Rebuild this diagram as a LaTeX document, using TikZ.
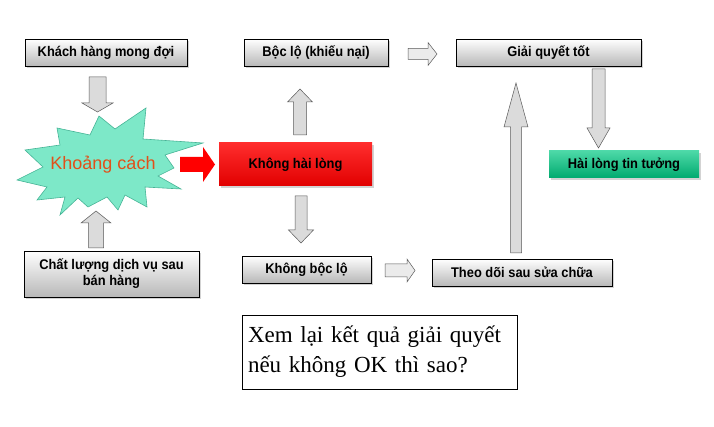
\documentclass[tikz,border=0pt]{standalone}
\usepackage{fontspec}
\setmainfont{Liberation Sans}
\newfontfamily\boxfont{Liberation Sans}[FakeStretch=0.92]
\newfontfamily\notefont{Liberation Serif}
\usetikzlibrary{positioning,calc,shadows}

\definecolor{starfill}{RGB}{125,232,200}
\definecolor{starline}{RGB}{70,180,150}
\definecolor{gaptext}{RGB}{225,80,25}
\definecolor{okgreen}{RGB}{0,200,130}

% block arrow between two named coordinates:
% #2 start, #3 end, #4 half shaft, #5 half head, #6 head length
\newcommand{\fatarrow}[6][]{%
  \coordinate (fa-h) at ($(#3)!#6!(#2)$);
  \draw[fatarrow,#1] ($(#2)!#4!90:(#3)$) -- ($(fa-h)!#4!90:(#3)$) -- ($(fa-h)!#5!90:(#3)$)
    -- (#3) -- ($(fa-h)!#5!-90:(#3)$) -- ($(fa-h)!#4!-90:(#3)$) -- ($(#2)!#4!-90:(#3)$) -- cycle;}

\begin{document}
\begin{tikzpicture}[x=1pt, y=-1pt,
        every node/.style={align=center, inner sep=0pt},
        greyBox/.style={
                draw, line width=0.5pt,
                top color=white, bottom color=black!28,
                drop shadow={shadow xshift=2pt, shadow yshift=-2pt, opacity=.35},
                minimum height=27pt,
                font=\boxfont\fontsize{14}{16}\selectfont\bfseries
            },
        redBox/.style={
                top color={rgb,255:red,255;green,45;blue,45}, bottom color={rgb,255:red,225;green,0;blue,0},
                drop shadow={shadow xshift=2pt, shadow yshift=-2pt, opacity=.35},
                minimum width=153pt, minimum height=43pt,
                font=\boxfont\fontsize{14}{16}\selectfont\bfseries
            },
        greenBox/.style={
                top color=okgreen!70!white, bottom color=okgreen!85!black,
                drop shadow={shadow xshift=2pt, shadow yshift=-2pt, opacity=.35},
                minimum width=150pt, minimum height=27pt,
                font=\boxfont\fontsize{14}{16}\selectfont\bfseries
            },
        fatarrow/.style={draw=black!65, fill=black!14, line width=0.5pt, line join=miter},
        redarrow/.style={draw=none, fill=red}
    ]
    \useasboundingbox (0,0) rectangle (714,427);

    % Left column
    \node[greyBox, minimum width=162pt] (kh) at (106,52.5) {Khách hàng mong đợi};
    \node[greyBox, minimum width=175pt, minimum height=46pt] (cl) at (111.5,274)
        {Chất lượng dịch vụ sau\\bán hàng};

    \draw[fill=starfill, draw=starline, line width=0.6pt, line join=miter]
        (57,128) -- (90,135) -- (99,116) -- (115,129) -- (146,108) -- (143,139)
        -- (203,143) -- (165,155) -- (174,168) -- (158,176) -- (181,189) -- (145,187)
        -- (147,207) -- (125,195) -- (118,210) -- (107,197) -- (88,207) -- (78,198)
        -- (60,215) -- (65,197) -- (37,200) -- (47,187) -- (17,180) -- (43,167)
        -- (25,150) -- (60,145) -- cycle;
    \node[text=gaptext, font=\fontsize{18}{20}\selectfont] (gap) at (103,165) {Khoảng cách};

    % Middle column
    \node[redBox] (khl) at (295.5,164.5) {Không hài lòng};
    \node[greyBox, minimum width=144pt] (boc) at (316,52.5) {Bộc lộ (khiếu nại)};
    \node[greyBox, minimum width=129pt] (kbl) at (306.5,269.5) {Không bộc lộ};

    % Right column
    \node[greyBox, minimum width=185pt] (gq) at (548.5,52.5) {Giải quyết tốt};
    \node[greenBox] (hl) at (624,164.5) {Hài lòng tin tưởng};
    \node[greyBox, minimum width=180pt] (td) at (522,272.5) {Theo dõi sau sửa chữa};

    % Question
    \node[draw, line width=0.6pt, minimum width=275pt, minimum height=74pt,
          text width=263pt, align=left, font=\notefont\fontsize{23}{30}\selectfont]
        (note) at (379.5,352) {Xem lại kết quả giải quyết\\nếu không OK thì sao?};

    % Arrows
    \coordinate (kh-a) at (97.5,77);   \coordinate (gap-a) at (97.5,112);
    \coordinate (cl-a) at (96,248);    \coordinate (gap-b) at (96,211);
    \coordinate (gap-c) at (180,164.5); \coordinate (khl-a) at (215,164.5);
    \coordinate (khl-b) at (300,135);  \coordinate (boc-a) at (300,89);
    \coordinate (khl-c) at (301,196);  \coordinate (kbl-a) at (301,243);
    \coordinate (kbl-b) at (385,270.5); \coordinate (td-a) at (415,270.5);
    \coordinate (td-b) at (516,253);   \coordinate (gq-a) at (516,83);
    \coordinate (boc-b) at (408,54);   \coordinate (gq-b) at (437,54);
    \coordinate (gq-c) at (598.5,69);  \coordinate (hl-a) at (598.5,148);

    \fatarrow{kh-a}{gap-a}{8.5pt}{15.5pt}{9pt}
    \fatarrow{cl-a}{gap-b}{7.5pt}{15pt}{12pt}
    \fatarrow[redarrow]{gap-c}{khl-a}{7.5pt}{17.5pt}{12pt}
    \fatarrow{khl-b}{boc-a}{6.5pt}{12.5pt}{13pt}
    \fatarrow{khl-c}{kbl-a}{6pt}{12.5pt}{13pt}
    \fatarrow[fill=black!8]{kbl-b}{td-a}{6.5pt}{11.5pt}{8pt}
    \fatarrow{td-b}{gq-a}{5.5pt}{12pt}{44pt}
    \fatarrow[fill=black!8]{boc-b}{gq-b}{5.5pt}{11.5pt}{9pt}
    \fatarrow{gq-c}{hl-a}{6.5pt}{11.5pt}{20pt}
\end{tikzpicture}
\end{document}
